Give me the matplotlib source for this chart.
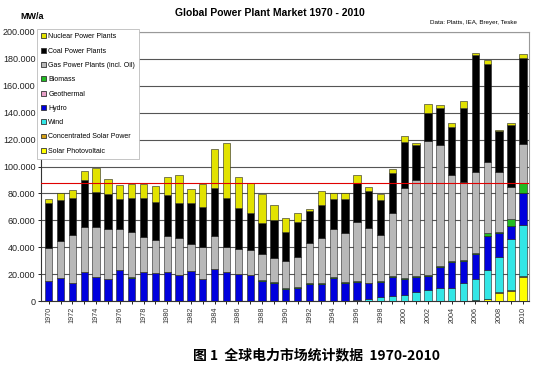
import numpy as np
import matplotlib
matplotlib.use('Agg')
import matplotlib.pyplot as plt
from matplotlib.patches import Patch

plt.rcParams['font.family'] = ['Liberation Sans', 'DejaVu Sans']

years = list(range(1970, 2011))

# MW/a per technology (stack order bottom -> top)
solar_pv = [0] * 36 + [700, 1500, 6400, 7700, 17800]
csp = [0] * 38 + [500, 500, 800]
wind = [0] * 26 + [1000, 1500, 2700, 4000, 4200, 6900, 8200, 9400, 9900,
                   13100, 16100, 21500, 26000, 37900, 37900]
hydro = [14900, 17300, 13600, 22000, 18100, 16800, 22800, 17100, 22000, 20800,
         21800, 19100, 22500, 16600, 24000, 21500, 20100, 19600, 14800, 13800,
         9000, 10000, 13000, 13000, 17000, 13200, 12900, 11600, 11600, 13600,
         12100, 11200, 10400, 16100, 19100, 16600, 17900, 25300, 17400, 9600,
         23500]
geothermal = [0] * 41
biomass = [0] * 7 + [500] + [0] * 3 + [500] + [0] * 6 + [800, 600, 1000, 700,
           700, 700, 700, 700, 700, 500, 700, 800, 700, 700, 700, 800, 800,
           800, 1000, 2200, 800, 5000, 7400]
gas = [24700, 27500, 35200, 32700, 37100, 36900, 30700, 33900, 26000, 24300,
       26500, 27200, 20100, 23300, 24300, 18900, 18500, 18300, 19300, 17500,
       20000, 22200, 29600, 32900, 36000, 36900, 44100, 40600, 33800, 46700,
       66700, 71100, 99800, 89600, 63800, 57700, 60400, 53000, 44500, 24200,
       29000]
coal = [33500, 30200, 28000, 35200, 25800, 25800, 22500, 25300, 28800, 28500,
        30200, 26300, 30000, 30200, 35700, 36100, 30300, 27200, 22800, 28300,
        21500, 26000, 23800, 24700, 22300, 25200, 28700, 27800, 26200, 30200,
        34200, 26200, 20800, 27300, 35900, 55000, 86700, 72600, 30700, 46100,
        63900]
nuclear = [2400, 5500, 5700, 6900, 17600, 11400, 10200, 10100, 10100, 11800,
           13400, 20300, 10400, 16800, 28700, 40900, 23500, 22800, 21800, 10900,
           9900, 6200, 1000, 10200, 4000, 4500, 6000, 2900, 4500, 2500,
           4900, 1000, 6500, 2400, 3000, 5400, 1700, 3000, 500, 1000, 3000]
reference_level = 87500

series = [
    ('Solar Photovoltaic', solar_pv, '#ffff00'),
    ('Concentrated Solar Power', csp, '#d4a017'),
    ('Wind', wind, '#33e6e6'),
    ('Hydro', hydro, '#0000dd'),
    ('Geothermal', geothermal, '#e8a0c8'),
    ('Biomass', biomass, '#22bb22'),
    ('Gas Power Plants (incl. Oil)', gas, '#b8b8b8'),
    ('Coal Power Plants', coal, '#000000'),
    ('Nuclear Power Plants', nuclear, '#e2e200'),
]

fig = plt.figure(figsize=(5.5, 3.75), dpi=100)
ax = fig.add_axes([0.0745, 0.197, 0.888, 0.718])

x = np.arange(len(years))
bottom = np.zeros(len(years))
for name, vals, col in series:
    vals = np.array(vals, dtype=float)
    ax.bar(x, vals, bottom=bottom, width=0.62, color=col,
           edgecolor='#222222', linewidth=0.4, zorder=3)
    bottom += vals

ax.axhline(reference_level, color='#e00000', lw=0.8, zorder=4)

ax.set_ylim(0, 200000)
ax.set_xlim(-0.65, 40.55)
yt = np.arange(0, 200001, 20000)
ax.set_yticks(yt)
ax.set_yticklabels([f'{v:,.0f}'.replace(',', '.') for v in yt], fontsize=6.5,
                   color='#222222')
ax.yaxis.grid(True, color='#555555', lw=0.8, zorder=0)
ax.set_xticks(x)
ax.set_xticklabels([str(y) if y % 2 == 0 else '' for y in years],
                   rotation=90, fontsize=5.2, color='#333333')
ax.tick_params(axis='both', length=2, width=0.6, pad=2)

for s in ['top', 'right']:
    ax.spines[s].set_color('#999999')
ax.spines['left'].set_color('#333333')
ax.spines['bottom'].set_color('#333333')

handles = [Patch(facecolor=c, edgecolor='#333333', linewidth=0.6, label=n)
           for n, _, c in series[::-1]]
leg = ax.legend(handles=handles, loc='upper left', bbox_to_anchor=(-0.008, 1.01),
                fontsize=5, frameon=True, fancybox=False, framealpha=1,
                handlelength=0.7, handleheight=0.7, handletextpad=0.3,
                labelspacing=1.05, borderpad=0.6, borderaxespad=0)
leg.get_frame().set_edgecolor('#bbbbbb')
leg.get_frame().set_linewidth(0.6)
leg.set_zorder(10)

fig.text(0.49, 0.965, 'Global Power Plant Market 1970 - 2010', ha='center',
         va='center', fontsize=7.5, fontweight='bold')
fig.text(0.058, 0.957, 'MW/a', ha='center', va='center', fontsize=6.5,
         fontweight='bold')
fig.text(0.94, 0.94, 'Data: Platts, IEA, Breyer, Teske', ha='right',
         va='center', fontsize=4.5)
fig.text(0.575, 0.053, '图 1  全球电力市场统计数据  1970-2010', ha='center',
         va='center', fontsize=10, fontweight='bold',
         family=['Noto Sans CJK SC', 'DejaVu Sans'])

fig.savefig('out.png', dpi=100)
